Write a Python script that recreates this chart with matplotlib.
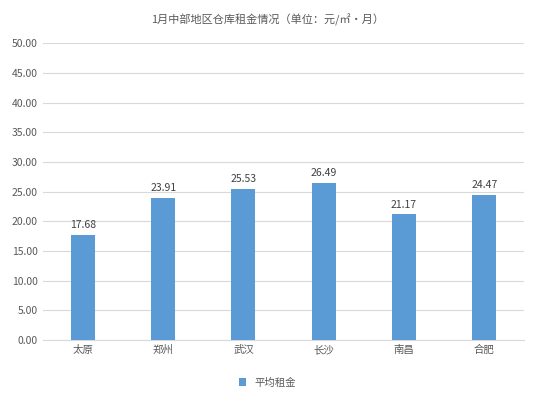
import matplotlib
matplotlib.use("Agg")
import matplotlib.pyplot as plt
from matplotlib.ticker import FormatStrFormatter

plt.rcParams['font.family'] = ['Noto Sans CJK SC', 'DejaVu Sans']

categories = ['太原', '郑州', '武汉', '长沙', '南昌', '合肥']
values = [17.68, 23.91, 25.53, 26.49, 21.17, 24.47]
title = '1月中部地区仓库租金情况（单位：元/㎡·月）'

fig = plt.figure(figsize=(5.35, 4.01), dpi=100)
ax = fig.add_axes([0.08, 0.152, 0.9, 0.74])
x = range(len(categories))
bars = ax.bar(x, values, width=0.3, color='#5B9BD5', label='平均租金', zorder=3)
for xi, v in zip(x, values):
    ax.text(xi, v + 0.8, f'{v:.2f}', ha='center', va='bottom', fontsize=7.5, color='#404040')
ax.set_ylim(0, 50)
ax.set_yticks(range(0, 51, 5))
ax.yaxis.set_major_formatter(FormatStrFormatter('%.2f'))
ax.set_xticks(list(x))
ax.set_xticklabels(categories)
ax.set_xlim(-0.5, len(categories) - 0.5)
ax.tick_params(axis='both', length=0, labelsize=7.5, colors='#595959')
ax.grid(axis='y', color='#D9D9D9', linewidth=0.8, zorder=0)
for s in ['top', 'right', 'left']:
    ax.spines[s].set_visible(False)
ax.spines['bottom'].set_color('#D9D9D9')
fig.suptitle(title, y=0.965, fontsize=8, color='#595959')
fig.legend(loc='lower center', bbox_to_anchor=(0.5, 0.01), frameon=False, fontsize=7.5,
           handlelength=0.7, handleheight=0.7, labelcolor='#595959')
fig.savefig('out.png', dpi=100)
